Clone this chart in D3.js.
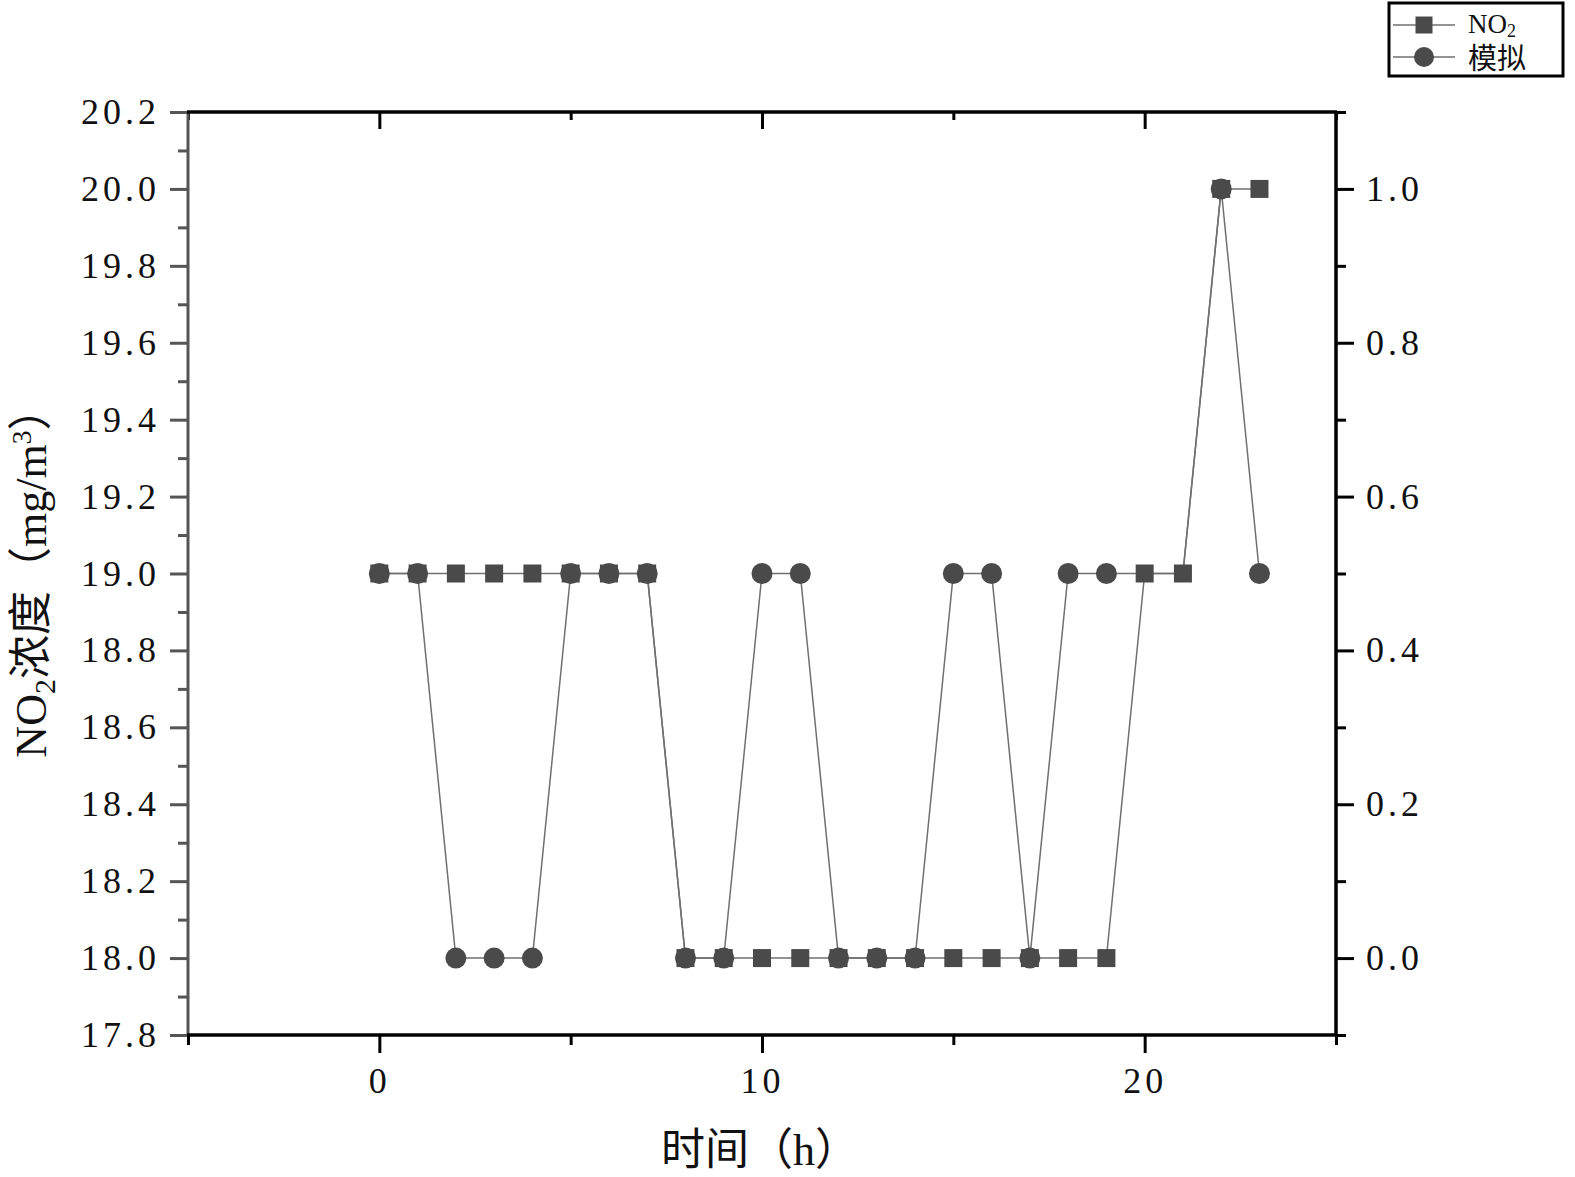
<!DOCTYPE html>
<html><head><meta charset="utf-8">
<script src="https://cdn.jsdelivr.net/npm/d3@7"></script>
<style>
html,body{margin:0;padding:0;background:#fff;}
svg text{font-family:"Liberation Serif","DejaVu Serif","Noto Sans CJK SC",serif;fill:#111;}
</style></head>
<body>
<svg id="chart" width="1575" height="1177"></svg>
<script>
// ---- data ----
const hours = [0,1,2,3,4,5,6,7,8,9,10,11,12,13,14,15,16,17,18,19,20,21,22,23];
const no2   = [19,19,19,19,19,19,19,19,18,18,18,18,18,18,18,18,18,18,18,18,19,19,20,20];
const sim   = [0.5,0.5,0,0,0,0.5,0.5,0.5,0,0,0.5,0.5,0,0,0,0.5,0.5,0,0.5,0.5,0.5,0.5,1.0,0.5];
const simMarkersHidden = [20,21];
const leftTicks  = [17.8,18.0,18.2,18.4,18.6,18.8,19.0,19.2,19.4,19.6,19.8,20.0,20.2];
const leftMinor  = [17.9,18.1,18.3,18.5,18.7,18.9,19.1,19.3,19.5,19.7,19.9,20.1];
const rightTicks = [0.0,0.2,0.4,0.6,0.8,1.0];
const rightMinor = [-0.1,0.1,0.3,0.5,0.7,0.9,1.1];
const xTicks     = [0,10,20];
const xMinor     = [-5,5,15,25];
const seriesNames = ["NO", "模拟"];

// ---- layout ----
const L = 188, R = 1336, T = 112, B = 1035;
const svg = d3.select("#chart");
const x  = d3.scaleLinear().domain([-5,25]).range([L,R]);
const yL = d3.scaleLinear().domain([17.8,20.2]).range([B,T]);
const yR = d3.scaleLinear().domain([-0.1,1.1]).range([B,T]);
const markColor = "#4a4a4a", lineColor = "#707070";

function styleAxis(g, color, width){
  g.select(".domain").remove();
  g.selectAll(".tick line").attr("stroke",color).attr("stroke-width",width);
  g.selectAll(".tick text").attr("font-size",36).attr("letter-spacing","4px").attr("fill","#111");
}

// left axis (gray)
const gLminor = svg.append("g").attr("transform",`translate(${L},0)`)
  .call(d3.axisLeft(yL).tickValues(leftMinor).tickSize(10).tickFormat(""));
styleAxis(gLminor,"#555",3);
const gL = svg.append("g").attr("transform",`translate(${L},0)`)
  .call(d3.axisLeft(yL).tickValues(leftTicks).tickSize(18).tickPadding(10).tickFormat(d3.format(".1f")));
styleAxis(gL,"#555",3);

// right axis
const gRminor = svg.append("g").attr("transform",`translate(${R},0)`)
  .call(d3.axisRight(yR).tickValues(rightMinor).tickSize(10).tickFormat(""));
styleAxis(gRminor,"#000",3);
const gR = svg.append("g").attr("transform",`translate(${R},0)`)
  .call(d3.axisRight(yR).tickValues(rightTicks).tickSize(18).tickPadding(12).tickFormat(d3.format(".1f")));
styleAxis(gR,"#000",3);

// bottom axis
const gBminor = svg.append("g").attr("transform",`translate(0,${B})`)
  .call(d3.axisBottom(x).tickValues(xMinor).tickSize(10).tickFormat(""));
styleAxis(gBminor,"#000",3);
const gB = svg.append("g").attr("transform",`translate(0,${B})`)
  .call(d3.axisBottom(x).tickValues(xTicks).tickSize(18).tickPadding(14).tickFormat(d3.format("d")));
styleAxis(gB,"#000",3);

// top axis (inward)
const gTminor = svg.append("g").attr("transform",`translate(0,${T})`)
  .call(d3.axisBottom(x).tickValues(xMinor).tickSize(8).tickFormat(""));
styleAxis(gTminor,"#000",3);
const gT = svg.append("g").attr("transform",`translate(0,${T})`)
  .call(d3.axisBottom(x).tickValues(xTicks).tickSize(17).tickFormat(""));
styleAxis(gT,"#000",3);

// frame lines
svg.append("line").attr("x1",L).attr("x2",L).attr("y1",T).attr("y2",B).attr("stroke","#555").attr("stroke-width",3);
svg.append("line").attr("x1",R).attr("x2",R).attr("y1",T).attr("y2",B).attr("stroke","#000").attr("stroke-width",3.5);
svg.append("line").attr("x1",L-1).attr("x2",R+1).attr("y1",T).attr("y2",T).attr("stroke","#000").attr("stroke-width",3.5);
svg.append("line").attr("x1",L-1).attr("x2",R+1).attr("y1",B).attr("y2",B).attr("stroke","#000").attr("stroke-width",3.5);

// series lines
const lineNo2 = d3.line().x((d,i)=>x(hours[i])).y(d=>yL(d));
const lineSim = d3.line().x((d,i)=>x(hours[i])).y(d=>yR(d));
svg.append("path").datum(no2).attr("d",lineNo2).attr("fill","none").attr("stroke",lineColor).attr("stroke-width",1.5);
svg.append("path").datum(sim).attr("d",lineSim).attr("fill","none").attr("stroke",lineColor).attr("stroke-width",1.5);

// markers
const sq = 18;
svg.append("g").selectAll("rect").data(no2).join("rect")
  .attr("x",(d,i)=>x(hours[i])-sq/2).attr("y",d=>yL(d)-sq/2)
  .attr("width",sq).attr("height",sq).attr("fill",markColor);
svg.append("g").selectAll("circle")
  .data(sim.map((v,i)=>({h:hours[i],v})).filter(d=>!simMarkersHidden.includes(d.h)))
  .join("circle")
  .attr("cx",d=>x(d.h)).attr("cy",d=>yR(d.v)).attr("r",10.5).attr("fill",markColor);

// axis titles
svg.append("text").attr("x",760).attr("y",1165).attr("text-anchor","middle")
  .attr("font-size",44).text("时间（h）");
const yt = svg.append("text").attr("transform","translate(46,572) rotate(-90)")
  .attr("text-anchor","middle").attr("font-size",44);
yt.append("tspan").text("NO");
yt.append("tspan").attr("font-size",30).attr("dy",9).text("2");
yt.append("tspan").attr("dy",-9).text("浓度（mg/m");
yt.append("tspan").attr("font-size",28).attr("dy",-15).text("3");
yt.append("tspan").attr("dy",15).text("）");

// legend
const lg = svg.append("g");
lg.append("rect").attr("x",1389).attr("y",3).attr("width",174).attr("height",73)
  .attr("fill","#fff").attr("stroke","#000").attr("stroke-width",3);
[0,1].forEach(k=>{
  const cy = k===0 ? 25 : 57;
  lg.append("line").attr("x1",1393).attr("x2",1455).attr("y1",cy).attr("y2",cy)
    .attr("stroke",lineColor).attr("stroke-width",1.5);
  if(k===0){
    lg.append("rect").attr("x",1424-8.5).attr("y",cy-8.5).attr("width",17).attr("height",17).attr("fill",markColor);
    const t = lg.append("text").attr("x",1468).attr("y",cy+8).attr("font-size",27);
    t.append("tspan").text(seriesNames[0]);
    t.append("tspan").attr("font-size",18).attr("dy",4).text("2");
  } else {
    lg.append("circle").attr("cx",1424).attr("cy",cy).attr("r",10).attr("fill",markColor);
    lg.append("text").attr("x",1468).attr("y",cy+12).attr("font-size",29).text(seriesNames[1]);
  }
});
</script>
</body></html>
